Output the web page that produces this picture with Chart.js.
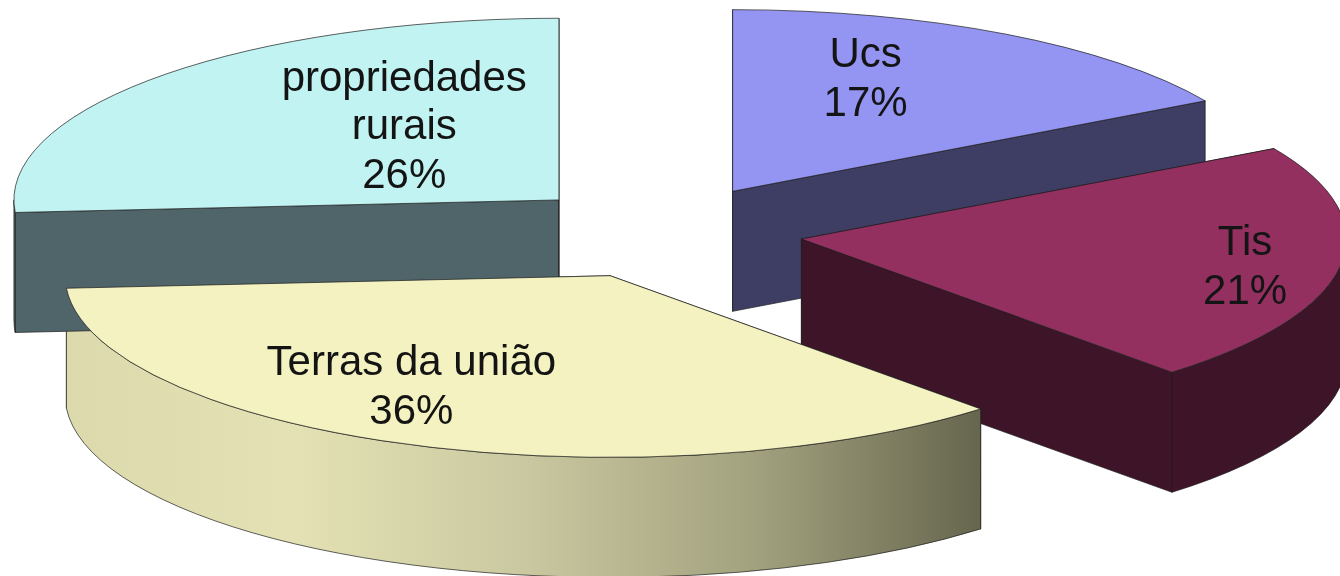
<!DOCTYPE html>
<html lang="pt">
<head>
<meta charset="utf-8">
<title>Terras</title>
<script src="https://cdn.jsdelivr.net/npm/chart.js@4/dist/chart.umd.min.js"></script>
<style>
  html, body { margin: 0; padding: 0; background: #fff; overflow: hidden; }
  /* the reference is a soft, upscaled image */
  canvas { display: block; filter: blur(0.6px); }
</style>
</head>
<body>
<canvas id="chart" width="1340" height="576"></canvas>
<script>
// ── Data ───────────────────────────────────────────────────────────

const LABELS = ['Ucs', 'Tis', 'Terras da união', 'propriedades rurais'];
// the printed labels are these values rounded
const VALUES = [16.7, 21.4, 35.8, 26.1];
const LABEL_LINES = [['Ucs'], ['Tis'], ['Terras da união'], ['propriedades', 'rurais']];

// ── Look ───────────────────────────────────────────────────────────

const TOP_COLORS = ['#9494f2', '#933060', '#f3f2c0', '#c0f3f2'];
const WALL_COLORS = ['#3e3e64', '#3e1428', null, '#50656a'];
const GRADIENT_STOPS = ['#dcdaac', '#e4e2b4', '#c9c8a0', '#a3a27f', '#66664e'];
const EDGE_COLOR = 'rgba(30,30,30,0.7)';

const SQUASH = 1 / 3;     // ellipse height / width
const DEPTH = 120;        // wall height on screen
const EXPLODE = 141;      // how far each slice leaves the centre
const RADIUS = 545;

// label position relative to the slice tip: [angle shift in deg, fraction of radius]
const LABEL_PLACE = [[-8.8, 0.673], [1.5, 0.827], [9.5, 0.706], [12.4, 0.50]];
const LABEL_DROP = 2.5;   // middle baseline sits a bit high for this font

// ── 3D pie plugin ──────────────────────────────────────────────────

function centerY(chart) {
  return (chart.chartArea.top + chart.chartArea.bottom) / 2;
}

function squash(ctx, cy) {
  ctx.translate(0, cy);
  ctx.scale(1, SQUASH);
  ctx.translate(0, -cy);
}

function wallFill(ctx, i, arc) {
  if (WALL_COLORS[i]) return WALL_COLORS[i];
  const left = arc.x + arc.outerRadius * Math.cos(arc.endAngle);
  const right = arc.x + arc.outerRadius * Math.cos(arc.startAngle);
  const g = ctx.createLinearGradient(left, 0, right, 0);
  GRADIENT_STOPS.forEach((c, n) => g.addColorStop(n / (GRADIENT_STOPS.length - 1), c));
  return g;
}

// fill and stroke the path built by build() inside the squashed space,
// the stroke is done outside it so the line width stays even
function paintFace(ctx, cy, fill, build) {
  ctx.save();
  squash(ctx, cy);
  ctx.beginPath();
  build();
  ctx.restore();
  ctx.fillStyle = fill;
  ctx.fill();
  ctx.strokeStyle = EDGE_COLOR;
  ctx.lineWidth = 1;
  ctx.stroke();
}

function drawWalls(ctx, arc, i, cy) {
  const drop = DEPTH / SQUASH;
  const R = arc.outerRadius;
  const fill = wallFill(ctx, i, arc);

  [arc.startAngle, arc.endAngle].forEach(a => {
    paintFace(ctx, cy, fill, () => {
      ctx.moveTo(arc.x, arc.y);
      ctx.lineTo(arc.x + R * Math.cos(a), arc.y + R * Math.sin(a));
      ctx.lineTo(arc.x + R * Math.cos(a), arc.y + drop + R * Math.sin(a));
      ctx.lineTo(arc.x, arc.y + drop);
      ctx.closePath();
    });
  });

  // curved wall, front half of the ellipse only
  const from = Math.max(arc.startAngle, 0);
  const to = Math.min(arc.endAngle, Math.PI);
  if (to > from) {
    paintFace(ctx, cy, fill, () => {
      ctx.arc(arc.x, arc.y, R, from, to);
      ctx.arc(arc.x, arc.y + drop, R, to, from, true);
      ctx.closePath();
    });
  }
}

const pie3d = {
  id: 'pie3d',
  afterDatasetsUpdate(chart) {
    // pull the slices apart; the library's own offset also bends the arcs
    chart.getDatasetMeta(0).data.forEach(arc => {
      const mid = (arc.startAngle + arc.endAngle) / 2;
      arc.x += Math.cos(mid) * EXPLODE;
      arc.y += Math.sin(mid) * EXPLODE;
    });
  },
  beforeDatasetsDraw(chart) {
    const { ctx } = chart;
    const cy = centerY(chart);
    chart.getDatasetMeta(0).data.forEach((arc, i) => drawWalls(ctx, arc, i, cy));
    ctx.save();
    squash(ctx, cy);
  },
  afterDatasetsDraw(chart) {
    const { ctx } = chart;
    ctx.restore();
    const cy = centerY(chart);
    const arcs = chart.getDatasetMeta(0).data;

    arcs.forEach(arc => {
      ctx.save();
      squash(ctx, cy);
      ctx.beginPath();
      ctx.moveTo(arc.x, arc.y);
      ctx.arc(arc.x, arc.y, arc.outerRadius, arc.startAngle, arc.endAngle);
      ctx.closePath();
      ctx.restore();
      ctx.strokeStyle = EDGE_COLOR;
      ctx.lineWidth = 1;
      ctx.stroke();
    });

    ctx.save();
    ctx.font = '42px "Liberation Sans", Arial, sans-serif';
    ctx.fillStyle = '#141414';
    ctx.textAlign = 'center';
    ctx.textBaseline = 'middle';
    arcs.forEach((arc, i) => {
      const [shift, frac] = LABEL_PLACE[i];
      const a = (arc.startAngle + arc.endAngle) / 2 + shift * Math.PI / 180;
      const x = arc.x + Math.cos(a) * frac * arc.outerRadius;
      const y = cy + (arc.y - cy + Math.sin(a) * frac * arc.outerRadius) * SQUASH + LABEL_DROP;
      const lines = [...LABEL_LINES[i], Math.round(VALUES[i]) + '%'];
      lines.forEach((t, n) => ctx.fillText(t, x, y + (n - (lines.length - 1) / 2) * 48.5));
    });
    ctx.restore();
  },
};

// ── Chart ──────────────────────────────────────────────────────────

new Chart(document.getElementById('chart'), {
  type: 'pie',
  data: {
    labels: LABELS,
    datasets: [{
      data: VALUES,
      backgroundColor: TOP_COLORS,
      borderWidth: 0,
      clip: false,
    }],
  },
  options: {
    responsive: false,
    animation: false,
    events: [],
    radius: RADIUS,
    layout: { padding: { right: 16, bottom: 112 } },
    plugins: { legend: { display: false }, tooltip: { enabled: false } },
  },
  plugins: [pie3d],
});
</script>
</body>
</html>
